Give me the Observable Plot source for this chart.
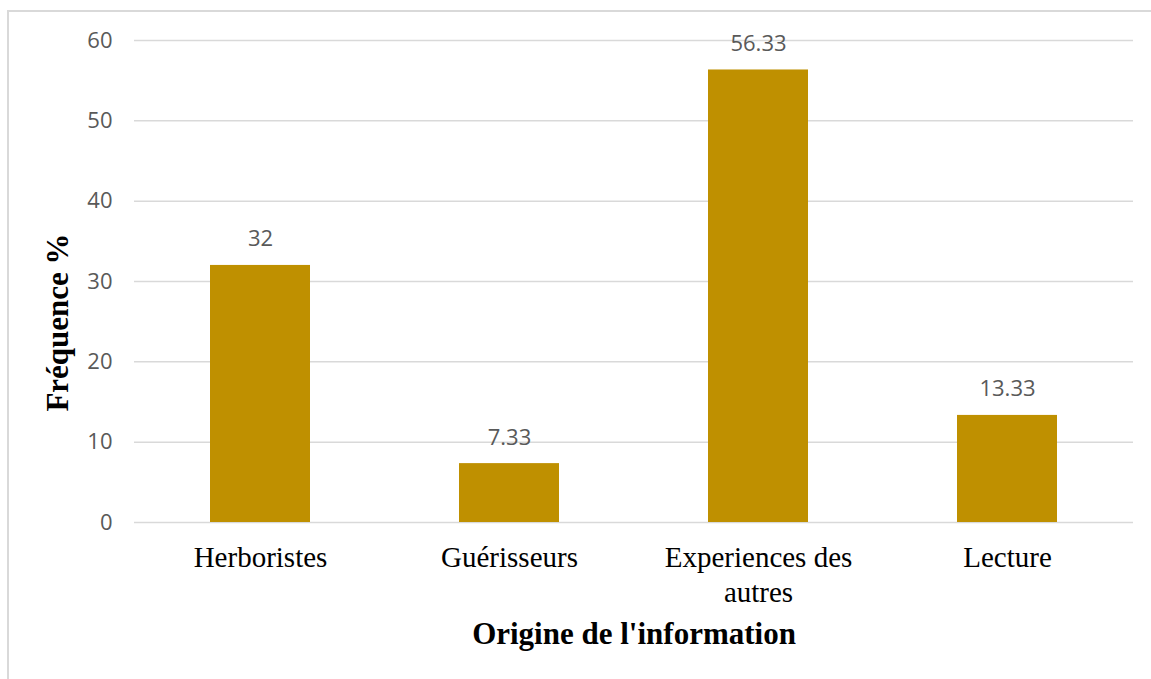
<!DOCTYPE html>
<html><head><meta charset="utf-8">
<script src="https://cdn.jsdelivr.net/npm/d3@7"></script>
<script src="https://cdn.jsdelivr.net/npm/@observablehq/plot@0.6"></script>
<style>
html,body{margin:0;padding:0;background:#fff;overflow:hidden;}
#wrap{position:relative;width:1151px;height:679px;}
#border{position:absolute;left:7px;top:10px;right:-10px;bottom:-10px;border-left:2px solid #d9d9d9;border-top:2px solid #d9d9d9;pointer-events:none;}
</style></head><body>
<div id="wrap"><div id="chart"></div><div id="border"></div></div>
<script>
const categories = ["Herboristes", "Guérisseurs", "Experiences des autres", "Lecture"];
const values = [32, 7.33, 56.33, 13.33];
const valueLabels = ["32", "7.33", "56.33", "13.33"];
const yTicks = [0, 10, 20, 30, 40, 50, 60];
const xTitle = "Origine de l'information";
const yTitle = "Fréquence %";

const data = categories.map((c, i) => ({category: c, value: values[i], label: valueLabels[i]}));
const wrapLabel = {"Experiences des autres": "Experiences des\nautres"};

const chart = Plot.plot({
  width: 1151, height: 679,
  marginLeft: 134, marginRight: 18, marginTop: 40, marginBottom: 157,
  style: {background: "transparent", overflow: "visible"},
  x: {domain: categories, paddingInner: 0.6, paddingOuter: 0.3},
  y: {domain: [0, 60]},
  marks: [
    Plot.gridY(yTicks, {stroke: "#d9d9d9", strokeOpacity: 1, strokeWidth: 1.5}),
    Plot.barY(data, {x: "category", y: "value", fill: "#BF9000"}),
    Plot.text(data, {x: "category", y: "value", text: "label", lineAnchor: "bottom", dy: -19,
      fill: "#595959", fontSize: 22, fontFamily: "Open Sans"}),
    Plot.axisY({ticks: yTicks, tickSize: 0, tickPadding: 22, fontSize: 22, fontFamily: "Open Sans",
      fill: "#595959", label: null}),
    Plot.axisX({tickSize: 0, tickPadding: 20, tickFormat: d => wrapLabel[d] ?? d, fontSize: 29,
      fontFamily: "Liberation Serif", fill: "#000", lineHeight: 1.2, label: null}),
    Plot.text([xTitle], {text: d => d, frameAnchor: "bottom", dy: 121, lineAnchor: "bottom",
      fontSize: 31, fontWeight: "bold", fontFamily: "Liberation Serif", fill: "#000"}),
    Plot.text([yTitle], {text: d => d, frameAnchor: "left", textAnchor: "middle", rotate: -90, dx: -76, dy: 41,
      lineAnchor: "middle", fontSize: 31, fontWeight: "bold", fontFamily: "Liberation Serif", fill: "#000"})
  ]
});
document.getElementById("chart").appendChild(chart);
</script>
</body></html>
